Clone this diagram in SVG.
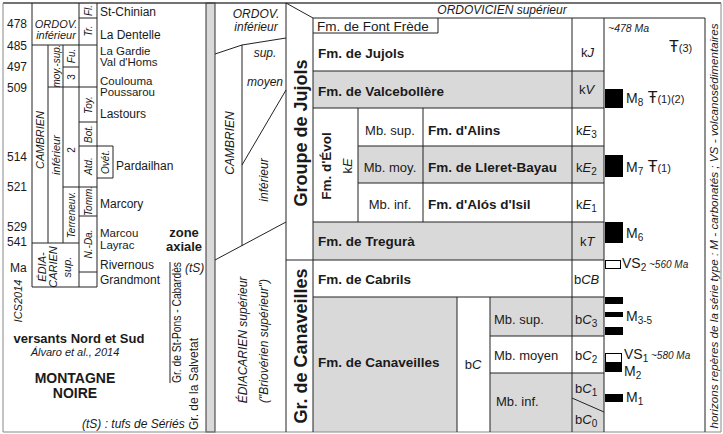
<svg xmlns="http://www.w3.org/2000/svg" width="723" height="434" viewBox="0 0 723 434">
<style>
text{font-family:"Liberation Sans",Arial,sans-serif;font-size:12px;fill:#1a1a1a}
.i{font-style:italic}
.b{font-weight:bold}
.s10{font-size:10px}
.s11{font-size:11px}
.t13{font-size:13px}
.fm{font-weight:bold;font-size:13.5px}
.gp{font-weight:bold;font-size:18px}
.m{text-anchor:middle}
.l{stroke:#222;stroke-width:1;fill:none}
.g{fill:#d9d9d9}
.k{fill:#000}
.w{fill:#fff;stroke:#000;stroke-width:1}
.tt{font-size:16px}
</style>
<rect width="723" height="434" fill="#fff"/>
<g id="fills">
<rect class="g" x="313" y="71" width="291" height="37"/>
<rect class="g" x="358" y="146" width="246" height="37"/>
<rect class="g" x="313" y="222" width="291" height="38"/>
<rect class="g" x="313" y="297" width="144" height="135"/>
<rect class="g" x="490" y="297" width="114" height="39"/>
<rect class="g" x="490" y="373" width="114" height="59"/>
<rect x="206" y="3" width="9" height="429" fill="#d9d9d9" stroke="#333" stroke-width="1"/>
</g>
<g id="connectors" class="l">
<path d="M3,3H721" stroke="#444" stroke-width="1.5"/>
<path d="M3,3V432M3,432H721M721,3V432" stroke="#888"/>
<path d="M32,3V287M79,3V287M97,3V287M48,45V243M63,45V243"/>
<path d="M32,45H97M79,18H97M63,67H79M48,87H97M79,122H97M79,146H113V178H97M63,187H97M79,216H97M32,243H79M79,272H97M32,287H97"/>
<path d="M170,262V383"/>
<path d="M215,54L242,45L286,38M242,45V246M286,90L242,165M286,222L215,260"/>
<path d="M286,3V432M286,3L313,18M313,18V432M313,18H705M313,33H438V18"/>
<path d="M313,71H604M313,108H604M358,108V222M423,108V222M358,146H604M358,183H604M313,222H604M286,260H604M313,297H604"/>
<path d="M572,18V432M604,18V432M457,297V432M490,297V432M490,336H604M490,373H604M572,398L604,412M705,18V432"/>
</g>
<g id="ma-scale">
<text x="7" y="28">478</text>
<text x="7" y="50">485</text>
<text x="7" y="71">497</text>
<text x="7" y="92">509</text>
<text x="7" y="161">514</text>
<text x="7" y="191">521</text>
<text x="7" y="231">529</text>
<text x="7" y="246">541</text>
<text x="10" y="272">Ma</text>
<text class="i s11 m" transform="translate(22,301) rotate(-90)">ICS2014</text>
</g>
<g id="chrono-left">
<text class="i s11 m" x="56" y="28">ORDOV.</text>
<text class="i s11 m" x="56" y="39">inférieur</text>
<text class="i s10 m" transform="translate(92,10.5) rotate(-90)">Fl.</text>
<text class="i s10 m" transform="translate(92,31) rotate(-90)">Tr.</text>
<text class="i s10 m" transform="translate(75,56) rotate(-90)">Fu.</text>
<text class="s10 m" transform="translate(75,77) rotate(-90)">3</text>
<text class="i s10 m" transform="translate(59.5,66) rotate(-90)">moy.-sup.</text>
<text class="i s11 m" transform="translate(44,140) rotate(-90)">CAMBRIEN</text>
<text class="i s11 m" transform="translate(59.5,155) rotate(-90)">inférieur</text>
<text class="s10 m" transform="translate(75,150) rotate(-90)">2</text>
<text class="i s10 m" transform="translate(75,215) rotate(-90)">Terreneuv.</text>
<text class="i s10 m" transform="translate(92,105) rotate(-90)">Toy.</text>
<text class="i s10 m" transform="translate(92,134) rotate(-90)">Bot.</text>
<text class="i s10 m" transform="translate(92,166) rotate(-90)">Atd.</text>
<text class="i s10 m" transform="translate(109,162) rotate(-90)">Ovét.</text>
<text class="i s10 m" transform="translate(92,201) rotate(-90)">Tomm.</text>
<text class="i s10 m" transform="translate(92,244) rotate(-90)">N.-Da.</text>
<text class="i s11 m" transform="translate(46,267) rotate(-90)">ÉDIA-</text>
<text class="i s11 m" transform="translate(57,267) rotate(-90)">CARIEN</text>
<text class="i s11 m" transform="translate(71,267) rotate(-90)">sup.</text>
</g>
<g id="formations-left">
<text x="100" y="16">St-Chinian</text>
<text x="100" y="39">La Dentelle</text>
<text x="100" y="55" style="font-size:11.5px">La Gardie</text>
<text x="100" y="66" style="font-size:11.5px">Val d'Homs</text>
<text x="100" y="85" style="font-size:11.5px">Coulouma</text>
<text x="100" y="96" style="font-size:11.5px">Poussarou</text>
<text x="100" y="118">Lastours</text>
<text x="116" y="170">Pardailhan</text>
<text x="100" y="208">Marcory</text>
<text x="100" y="237" style="font-size:11.5px">Marcou</text>
<text x="100" y="249" style="font-size:11.5px">Layrac</text>
<text x="100" y="269">Rivernous</text>
<text x="100" y="284">Grandmont</text>
<text class="b m" style="font-size:13px" x="184" y="237">zone</text>
<text class="b m" style="font-size:13px" x="184" y="251">axiale</text>
<text class="i" x="185" y="272">(tS)</text>
<text transform="translate(181,383) rotate(-90)" textLength="121" lengthAdjust="spacingAndGlyphs">Gr. de St-Pons - Cabardès</text>
<text transform="translate(198,430) rotate(-90)">Gr. de la Salvetat</text>
<text class="b m" style="font-size:13px" x="79" y="343">versants Nord et Sud</text>
<text class="i s11 m" x="75" y="356">Álvaro et al., 2014</text>
<text class="b m" style="font-size:14px" x="75" y="383">MONTAGNE</text>
<text class="b m" style="font-size:14px" x="75" y="398">NOIRE</text>
<text class="i" x="82" y="428">(tS) : tufs de Sériés</text>
</g>
<g id="chrono-middle">
<text class="i m" x="256" y="18">ORDOV.</text>
<text class="i m" x="256" y="31">inférieur</text>
<text class="i m" x="265" y="57">sup.</text>
<text class="i m" x="265" y="86">moyen</text>
<text class="i m" transform="translate(234,143) rotate(-90)">CAMBRIEN</text>
<text class="i m" transform="translate(268,180) rotate(-90)">inférieur</text>
<text class="i m" transform="translate(247,340) rotate(-90)">ÉDIACARIEN supérieur</text>
<text class="i m" transform="translate(268,341) rotate(-90)">("Briovérien supérieur")</text>
</g>
<g id="groupe-jujols">
<text class="gp m" transform="translate(306.5,133) rotate(-90)">Groupe de Jujols</text>
<text class="i m" x="502" y="14">ORDOVICIEN supérieur</text>
<text style="font-size:13.5px" x="317" y="30.5">Fm. de Font Frède</text>
<text class="fm" x="318" y="58">Fm. de Jujols</text>
<text class="t13" x="581" y="57">k<tspan class="i">J</tspan></text>
<text class="fm" x="318" y="96">Fm. de Valcebollère</text>
<text class="t13" x="579" y="94">k<tspan class="i">V</tspan></text>
<text class="fm m" transform="translate(331,166) rotate(-90)">Fm. d'Évol</text>
<text class="m t13" transform="translate(352,166) rotate(-90)">k<tspan class="i">E</tspan></text>
<text class="m t13" x="390" y="135">Mb. sup.</text>
<text class="fm" x="428" y="135">Fm. d'Alins</text>
<text class="t13" x="576" y="135">k<tspan class="i">E</tspan><tspan class="s10" dy="3">3</tspan></text>
<text class="m t13" x="390" y="172">Mb. moy.</text>
<text class="fm" x="428" y="172">Fm. de Lleret-Bayau</text>
<text class="t13" x="576" y="172">k<tspan class="i">E</tspan><tspan class="s10" dy="3">2</tspan></text>
<text class="m t13" x="390" y="209">Mb. inf.</text>
<text class="fm" x="428" y="209">Fm. d'Alós d'Isil</text>
<text class="t13" x="576" y="209">k<tspan class="i">E</tspan><tspan class="s10" dy="3">1</tspan></text>
<text class="fm" x="318" y="246">Fm. de Tregurà</text>
<text class="t13" x="580" y="246">k<tspan class="i">T</tspan></text>
</g>
<g id="groupe-canaveilles">
<text class="gp m" transform="translate(306.5,346) rotate(-90)">Gr. de Canaveilles</text>
<text class="fm" x="318" y="284">Fm. de Cabrils</text>
<text class="t13" x="574" y="284">b<tspan class="i">CB</tspan></text>
<text class="fm" x="318" y="367">Fm. de Canaveilles</text>
<text class="m t13" x="473" y="369">b<tspan class="i">C</tspan></text>
<text class="t13" x="494" y="324">Mb. sup.</text>
<text class="t13" x="575" y="324">b<tspan class="i">C</tspan><tspan class="s10" dy="3">3</tspan></text>
<text class="t13" x="494" y="360">Mb. moyen</text>
<text class="t13" x="575" y="360">b<tspan class="i">C</tspan><tspan class="s10" dy="3">2</tspan></text>
<text class="t13" x="496" y="406">Mb. inf.</text>
<text class="t13" x="575" y="393">b<tspan class="i">C</tspan><tspan class="s10" dy="3">1</tspan></text>
<text class="t13" x="575" y="424">b<tspan class="i">C</tspan><tspan class="s10" dy="3">0</tspan></text>
</g>
<g id="markers">
<text class="i" style="font-size:10.5px" x="608" y="32">~478 Ma</text>
<text x="669" y="52" class="tt">Ŧ<tspan class="s11">(3)</tspan></text>
<rect class="k" x="605" y="89" width="18" height="19"/>
<text x="626" y="103" style="font-size:14px">M<tspan class="s10" dy="3">8</tspan><tspan class="tt" dy="-3"> Ŧ</tspan><tspan class="s11">(1)(2)</tspan></text>
<rect class="k" x="605" y="155" width="18" height="22"/>
<text x="626" y="172" style="font-size:14px">M<tspan class="s10" dy="3">7</tspan><tspan class="tt" dy="-3"> Ŧ</tspan><tspan class="s11">(1)</tspan></text>
<rect class="k" x="605" y="222" width="18" height="21"/>
<text x="626" y="238" style="font-size:14px">M<tspan class="s10" dy="3">6</tspan></text>
<rect class="w" x="605.5" y="260.5" width="15" height="8"/>
<text x="622" y="268" style="font-size:14px">VS<tspan class="s10" dy="3">2</tspan><tspan class="i" style="font-size:10px" dy="-3"> ~560 Ma</tspan></text>
<rect class="k" x="605" y="297" width="18" height="7"/>
<rect class="k" x="605" y="312" width="18" height="5"/>
<rect class="k" x="605" y="327" width="18" height="8"/>
<text x="626" y="321" style="font-size:14px">M<tspan class="s10" dy="3">3-5</tspan></text>
<rect class="w" x="605.5" y="353.5" width="16" height="9"/>
<rect class="k" x="605" y="363" width="17" height="9"/>
<text x="624" y="359" style="font-size:14px">VS<tspan class="s10" dy="3">1</tspan><tspan class="i" style="font-size:10px" dy="-3"> ~580 Ma</tspan></text>
<text x="624" y="376" style="font-size:14px">M<tspan class="s10" dy="3">2</tspan></text>
<rect class="k" x="605" y="394" width="18" height="8"/>
<text x="626" y="402" style="font-size:14px">M<tspan class="s10" dy="3">1</tspan></text>
<text class="i s11 m" transform="translate(718,226) rotate(-90)" textLength="405" lengthAdjust="spacingAndGlyphs">horizons repères de la série type : M - carbonatés ; VS - volcanosédimentaires</text>
</g>
</svg>
